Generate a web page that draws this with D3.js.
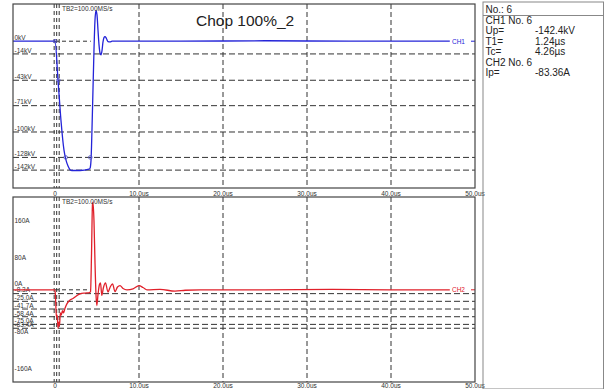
<!DOCTYPE html>
<html><head><meta charset="utf-8">
<script src="https://cdn.jsdelivr.net/npm/d3@7"></script>
<style>
html,body{margin:0;padding:0;background:#fff;}
svg{display:block;font-family:Arial,"Liberation Sans",sans-serif;}
</style></head>
<body>
<svg id="c" width="604" height="389"></svg>
<script>
// ---- data ----
const title = "Chop 100%_2";
const sampleRate = "TB2=100.00MS/s";
const xTicks = [0, 10, 20, 30, 40, 50];
const xTickLabels = ["0", "10.0us", "20.0us", "30.0us", "40.0us", "50.0us"];

// CH1 voltage (kV) vs time (us)
const ch1Time = [-5, 0, 0.36, 0.71, 1.07, 1.31, 1.55, 1.79, 2.02, 2.98, 4.05, 4.17, 4.29, 4.40, 4.52, 4.64, 4.76, 4.88, 5.0, 5.12, 5.24, 5.36, 5.48, 5.6, 5.71, 5.83, 5.95, 6.07, 6.19, 6.31, 6.55, 6.79, 15, 25, 35, 47];
const ch1KV   = [0, 0, -43, -87, -120, -131, -137.5, -141.5, -142.4, -142.4, -141, -140, -131, -98, -54, -10, 23, 34, 29, 12, -4, -13, -15, -10, -1, 4, 5, 4, 1.5, -0.5, -0.8, 0, 0, 0.5, 0, 0];
const kvLevels = [-14, -43, -71, -100, -128, -142];
const kvLevelLabels = ["-14kV", "-43kV", "-71kV", "-100kV", "-128kV", "-142kV"];
const kvMarkerT = [0, 0.4, 1.27, 4.2];
const kvMarkerV = [0, -43, -128, -128];

// CH2 current (A) vs time (us)
const ch2Time = [-5, 0, 0.07, 0.17, 0.26, 0.36, 0.45, 0.54, 0.63, 0.74, 0.89, 1.01, 1.19, 1.43, 1.79, 2.14, 2.5, 2.98, 3.57, 4.1, 4.23, 4.35, 4.46, 4.52, 4.64, 4.76, 4.88, 4.98, 5.12, 5.30, 5.42, 5.57, 5.77, 6.01, 6.31, 6.55, 6.85, 7.14, 7.44, 7.74, 8.1, 8.57, 9.29, 10.0, 10.48, 10.95, 12.5, 14.29, 15.5, 17.26, 25, 33, 40, 47];
const ch2A    = [0, 0, -20, -60, -55, -83.4, -70, -78, -50, -55, -45, -50, -40, -30, -22, -19, -14, -9, -7, -6, -4, 80, 185, 190, 150, 60, -10, -34, -10, 12, 15, -12, 5, 15, -5, 5, 13, -4, 6, 9, 3, 0, 2, 9, 5, 0, 1, -3, -1, 0, 0, 1, 0, 0];
const aLevels = [-8.3, -25.0, -41.7, -58.4, -75.0, -83.4];
const aLevelLabels = ["-8.3A", "-25.0A", "-41.7A", "-58.4A", "-75.0A", "-83.4A"];
const aMajor = [160, 80, 0, -80, -160];
const aMajorLabels = ["160A", "80A", "0A", "-80A", "-160A"];

const cursorT = [-0.1, 0.2, 0.5];
const chopT = 4.26;

const infoRows = [
  ["CH1  No. 6", ""],
  ["Up=", "-142.4kV"],
  ["T1=", "1.24\u00b5s"],
  ["Tc=", "4.26\u00b5s"],
  ["CH2  No. 6", ""],
  ["Ip=", "-83.36A"]
];

// ---- layout ----
const svg = d3.select("#c");
const X0 = 13, X1 = 475;
const FS = 6.5;
const x = d3.scaleLinear().domain([-5, 50]).range([X0, X1]);
const topP = {y0: 4, y1: 188, labY: 196};
const botP = {y0: 197, y1: 382, labY: 388};
const yV = d3.scaleLinear().domain([-161.7, 41]).range([topP.y1, topP.y0]);
const yA = d3.scaleLinear().domain([-200.6, 200.6]).range([botP.y1 + 0.3, botP.y0 + 0.3]);

const dashCol = "#333";
const textCol = "#333";

function panel(p, yScale, levels, levelLabels, tData, vData, color, chLabel) {
  const g = svg.append("g");
  const clipId = "clip" + p.y0;
  svg.append("clipPath").attr("id", clipId).append("rect")
    .attr("x", X0).attr("y", p.y0).attr("width", X1 - X0).attr("height", p.y1 - p.y0);
  g.selectAll(".vg").data(xTicks.filter(d => d > 0 && d < 50)).join("line")
    .attr("x1", d => x(d)).attr("x2", d => x(d)).attr("y1", p.y0).attr("y2", p.y1)
    .attr("stroke", dashCol).attr("stroke-width", 1).attr("stroke-dasharray", "5,3");
  g.selectAll(".cg").data(cursorT).join("line")
    .attr("x1", d => x(d)).attr("x2", d => x(d)).attr("y1", p.y0).attr("y2", p.y1)
    .attr("stroke", dashCol).attr("stroke-width", 1).attr("stroke-dasharray", "4,3");
  g.selectAll(".hl").data(levels).join("line")
    .attr("x1", X0).attr("x2", X1).attr("y1", d => yScale(d)).attr("y2", d => yScale(d))
    .attr("stroke", dashCol).attr("stroke-width", 1).attr("stroke-dasharray", "6,3");
  g.append("line").attr("x1", x(0)).attr("x2", x(chopT)).attr("y1", yScale(0)).attr("y2", yScale(0))
    .attr("stroke", dashCol).attr("stroke-dasharray", "4,3");
  g.selectAll(".hlt").data(levels).join("text")
    .attr("x", X0 + 1.5).attr("y", d => yScale(d) - 1.2)
    .attr("font-size", FS).attr("fill", textCol).text((d, i) => levelLabels[i]);
  const line = d3.line().x((d, i) => x(tData[i])).y((d, i) => yScale(vData[i])).curve(d3.curveMonotoneX);
  g.append("path").datum(vData).attr("d", line).attr("fill", "none")
    .attr("stroke", color).attr("stroke-width", 1.3).attr("clip-path", `url(#${clipId})`);
  g.append("text").attr("x", x(46.9) + 3).attr("y", yScale(0) + 2.5)
    .attr("font-size", FS).attr("fill", color).text(chLabel);
  g.append("line").attr("x1", X1 - 4).attr("x2", X1).attr("y1", yScale(0)).attr("y2", yScale(0))
    .attr("stroke", color).attr("stroke-width", 1);
  g.append("text").attr("x", 62).attr("y", p.y0 + 7).attr("font-size", FS).attr("fill", textCol).text(sampleRate);
  g.append("rect").attr("x", X0).attr("y", p.y0).attr("width", X1 - X0).attr("height", p.y1 - p.y0)
    .attr("fill", "none").attr("stroke", "#444").attr("stroke-width", 1.2);
  g.selectAll(".xt").data(xTicks).join("text")
    .attr("x", d => x(d)).attr("y", p.labY).attr("text-anchor", "middle")
    .attr("font-size", FS).attr("fill", textCol).text((d, i) => xTickLabels[i]);
  return g;
}

const gTop = panel(topP, yV, kvLevels, kvLevelLabels, ch1Time, ch1KV, "#2424d8", "CH1");
gTop.append("text").attr("x", X0 + 1.5).attr("y", yV(0) - 1.5).attr("font-size", FS).attr("fill", textCol).text("0kV");
gTop.selectAll(".mk").data(kvMarkerT).join("circle")
  .attr("cx", d => x(d)).attr("cy", (d, i) => yV(kvMarkerV[i])).attr("r", 1.8)
  .attr("fill", "none").attr("stroke", "#5050c0").attr("stroke-width", 0.8);
svg.append("text").attr("x", 196).attr("y", 26).attr("font-size", 15.5).attr("fill", "#222").text(title);

const gBot = panel(botP, yA, aLevels, aLevelLabels, ch2Time, ch2A, "#e0202a", "CH2");
gBot.selectAll(".mj").data(aMajor).join("text")
  .attr("x", X0 + 1.5).attr("y", d => yA(d) + (d === 0 ? -4 : 7))
  .attr("font-size", FS).attr("fill", textCol).text((d, i) => aMajorLabels[i]);

// ---- info box ----
const bx = 483, by = 2;
svg.append("rect").attr("x", bx).attr("y", by).attr("width", 604 - bx - 0.5).attr("height", 389 - by)
  .attr("fill", "none").attr("stroke", "#888").attr("stroke-width", 1);
svg.append("line").attr("x1", bx).attr("x2", 604).attr("y1", 15.5).attr("y2", 15.5).attr("stroke", "#888");
svg.append("text").attr("x", bx + 2.5).attr("y", 12.5).attr("font-size", 10).attr("fill", "#222").text("No.: 6");
infoRows.forEach((r, i) => {
  const yy = 24 + i * 10.4;
  svg.append("text").attr("x", bx + 2.5).attr("y", yy).attr("font-size", 10).attr("fill", "#222").text(r[0]);
  if (r[1]) svg.append("text").attr("x", 535).attr("y", yy).attr("font-size", 10).attr("fill", "#222").text(r[1]);
});
</script>
</body></html>
